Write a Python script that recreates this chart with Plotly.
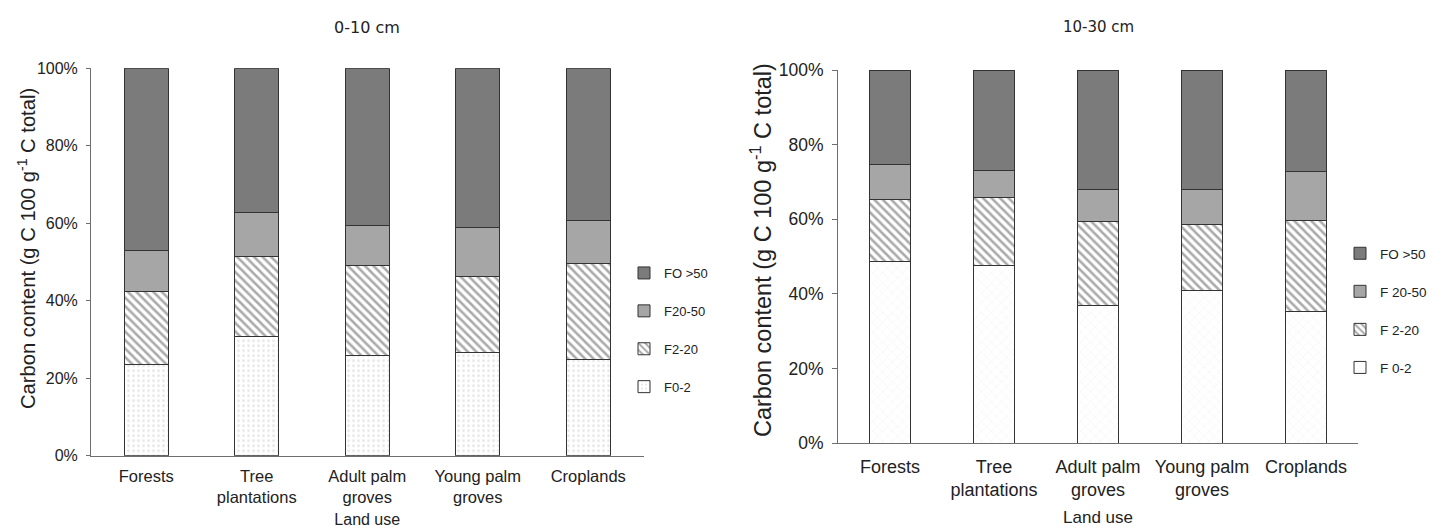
import plotly.graph_objects as go

categories = ["Forests", "Tree<br>plantations", "Adult palm<br>groves", "Young palm<br>groves", "Croplands"]

# 0-10 cm (percent of total C)
top_f02 = [23.6, 30.8, 25.8, 26.6, 24.8]
top_f220 = [18.7, 20.5, 23.3, 19.7, 24.8]
top_f2050 = [10.6, 11.6, 10.3, 12.6, 11.1]
top_fo50 = [47.1, 37.1, 40.6, 41.1, 39.3]

# 10-30 cm
sub_f02 = [48.8, 47.6, 36.8, 41.0, 35.2]
sub_f220 = [16.6, 18.3, 22.5, 17.7, 24.6]
sub_f2050 = [9.3, 7.3, 8.6, 9.4, 12.9]
sub_fo50 = [25.3, 26.8, 32.1, 31.9, 27.3]

names_left = ["F0-2", "F2-20", "F20-50", "FO >50"]
names_right = ["F 0-2", "F 2-20", "F 20-50", "FO >50"]

W, H = 1443, 528


def styles(side):
    if side == "left":
        p0 = dict(shape=".", fgcolor="#d2d2d2", bgcolor="white", size=5, solidity=0.25)
    else:
        p0 = dict(shape="x", fgcolor="#e0e0e0", bgcolor="white", size=7, solidity=0.12)
    return [
        dict(color="white", pattern=p0),
        dict(color="white", pattern=dict(shape="\\", fgcolor="#555555", bgcolor="white", size=6, solidity=0.42)),
        dict(color="#a6a6a6", pattern=None),
        dict(color="#7b7b7b", pattern=None),
    ]


fig = go.Figure()
left_series = [top_f02, top_f220, top_f2050, top_fo50]
right_series = [sub_f02, sub_f220, sub_f2050, sub_fo50]

for i, (nm, vals) in enumerate(zip(names_left, left_series)):
    st = styles("left")[i]
    fig.add_trace(go.Bar(
        x=categories, y=[v / 100 for v in vals], name=nm, xaxis="x", yaxis="y",
        legend="legend", legendgroup="l" + str(i), legendrank=10 - i,
        marker=dict(color=st["color"], pattern=st["pattern"],
                    line=dict(color="#333333", width=1)),
    ))
for i, (nm, vals) in enumerate(zip(names_right, right_series)):
    st = styles("right")[i]
    fig.add_trace(go.Bar(
        x=categories, y=[v / 100 for v in vals], name=nm, xaxis="x2", yaxis="y2",
        legend="legend2", legendgroup="r" + str(i), legendrank=10 - i,
        marker=dict(color=st["color"], pattern=st["pattern"],
                    line=dict(color="#333333", width=1)),
    ))

font_fam = "Liberation Sans, Arial"
ytitle = "Carbon content (g C 100 g<sup>-1</sup> C total)"

L = dict(x0=91, x1=643.5, top=68.3, bottom=455.7)
R = dict(x0=838, x1=1358, top=70, bottom=443.3)

fig.update_layout(
    width=W, height=H, autosize=False,
    margin=dict(l=0, r=0, t=0, b=0, pad=0, autoexpand=False),
    paper_bgcolor="white", plot_bgcolor="white",
    barmode="stack", bargap=0.6,
    font=dict(family=font_fam, color="#222"),
    xaxis=dict(domain=[L["x0"] / W, L["x1"] / W], anchor="y", range=[-0.5, 4.5],
               automargin=False,
               showline=True, linecolor="#6e6e6e", linewidth=1, ticks="",
               ticklabelstandoff=5,
               tickfont=dict(family=font_fam, size=16.5, color="#222"),
               title=dict(text="Land use", font=dict(size=16, color="#222"), standoff=9)),
    yaxis=dict(domain=[1 - L["bottom"] / H, 1 - L["top"] / H], anchor="x", range=[0, 1],
               automargin=False,
               tickformat=".0%", dtick=0.2, showgrid=False, zeroline=False,
               showline=True, linecolor="#6e6e6e", linewidth=1, ticks="outside",
               ticklen=4, tickcolor="#6e6e6e", ticklabelstandoff=5,
               tickfont=dict(family=font_fam, size=16, color="#222")),
    xaxis2=dict(domain=[R["x0"] / W, R["x1"] / W], anchor="y2", range=[-0.5, 4.5],
                automargin=False,
                showline=True, linecolor="#6e6e6e", linewidth=1, ticks="",
                ticklabelstandoff=7,
                tickfont=dict(family=font_fam, size=18, color="#222"),
                title=dict(text="Land use", font=dict(size=17, color="#222"), standoff=11)),
    yaxis2=dict(domain=[1 - R["bottom"] / H, 1 - R["top"] / H], anchor="x2", range=[0, 1],
                automargin=False,
                tickformat=".0%", dtick=0.2, showgrid=False, zeroline=False,
                showline=True, linecolor="#6e6e6e", linewidth=1, ticks="outside",
                ticklen=5, tickcolor="#6e6e6e", ticklabelstandoff=5,
                tickfont=dict(family=font_fam, size=17.5, color="#222")),
    legend=dict(x=624 / W, y=1 - 258 / H, xanchor="left", yanchor="top",
                traceorder="grouped", tracegroupgap=18,
                font=dict(size=13, color="#222"), bgcolor="rgba(0,0,0,0)"),
    legend2=dict(x=1340 / W, y=1 - 238 / H, xanchor="left", yanchor="top",
                 traceorder="grouped", tracegroupgap=17.5,
                 font=dict(size=13.5, color="#222"), bgcolor="rgba(0,0,0,0)"),
    annotations=[
        dict(text="0-10 cm", x=(L["x0"] + L["x1"]) / 2 / W, y=1 - 27 / H, xref="paper", yref="paper",
             xanchor="center", yanchor="middle", showarrow=False,
             font=dict(family="DejaVu Sans, Verdana", size=16, color="#222")),
        dict(text="10-30 cm", x=(R["x0"] + R["x1"]) / 2 / W, y=1 - 27 / H, xref="paper", yref="paper",
             xanchor="center", yanchor="middle", showarrow=False,
             font=dict(family="DejaVu Sans, Verdana", size=15, color="#222")),
        dict(text=ytitle, textangle=-90, x=26 / W, y=1 - 249 / H, xref="paper", yref="paper",
             xanchor="center", yanchor="middle", showarrow=False,
             font=dict(family=font_fam, size=20.2, color="#222")),
        dict(text=ytitle, textangle=-90, x=761 / W, y=1 - 250 / H, xref="paper", yref="paper",
             xanchor="center", yanchor="middle", showarrow=False,
             font=dict(family=font_fam, size=23.5, color="#222")),
    ],
)

fig.write_html("out.html")
